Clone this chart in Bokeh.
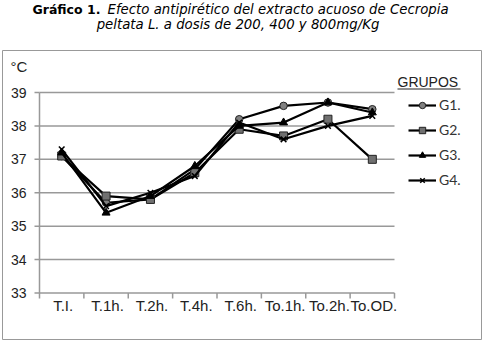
from bokeh.plotting import figure
from bokeh.models import Range1d, Legend, LegendItem
from bokeh.core.properties import value
from bokeh.embed import file_html
from bokeh.resources import INLINE

categories = ["T.I.", "T.1h.", "T.2h.", "T.4h.", "T.6h.", "To.1h.", "To.2h.", "To.OD."]
g1 = [37.1, 35.7, 35.8, 36.7, 38.2, 38.6, 38.7, 38.5]
g2 = [37.1, 35.9, 35.8, 36.6, 37.9, 37.7, 38.2, 37.0]
g3 = [37.2, 35.4, 35.9, 36.8, 38.0, 38.1, 38.7, 38.4]
g4 = [37.3, 35.6, 36.0, 36.5, 38.1, 37.6, 38.0, 38.3]
y_ticks = [33, 34, 35, 36, 37, 38, 39]
series_names = ["G1.", "G2.", "G3.", "G4."]

W, H = 485, 344
N = len(categories)
# plot-area geometry (pixels)
PX_L, PX_R = 39, 394
PY_TOP, PY_BOT = 92, 292.5
YMIN, YMAX = y_ticks[0], y_ticks[-1]
sx = (PX_R - PX_L) / N
sy = (PY_BOT - PY_TOP) / (YMAX - YMIN)


def dx(px):
    return (px - PX_L) / sx


def dy(py):
    return YMIN + (PY_BOT - py) / sy


p = figure(width=W, height=H, output_backend="svg", toolbar_location=None,
           x_axis_type=None, y_axis_type=None, min_border=0,
           x_range=Range1d(dx(0), dx(W)), y_range=Range1d(dy(H), dy(0)))
p.outline_line_color = None
p.grid.visible = False

GRID = "#999999"
# horizontal grid lines + x axis line
p.segment(x0=[0] * len(y_ticks), x1=[N] * len(y_ticks), y0=y_ticks, y1=y_ticks,
          line_color=GRID, line_width=1.5)
# y axis line and ticks
p.segment(x0=[0], x1=[0], y0=[YMIN], y1=[YMAX], line_color=GRID, line_width=1.5)
p.segment(x0=[dx(34)] * len(y_ticks), x1=[0] * len(y_ticks), y0=y_ticks, y1=y_ticks,
          line_color=GRID, line_width=1.5)
# x ticks between categories
bounds = list(range(N + 1))
p.segment(x0=bounds, x1=bounds, y0=[YMIN] * len(bounds), y1=[dy(298)] * len(bounds),
          line_color=GRID, line_width=1.5)

# tick labels
p.text(x=[dx(26)] * len(y_ticks), y=y_ticks, text=[str(t) for t in y_ticks],
       text_align="right", text_baseline="middle", text_color="#222222",
       text_font=value("Liberation Sans"), text_font_size=value("14px"))
xs = [i + 0.5 for i in range(N)]
p.text(x=[x + dx(PX_L + 1.5) for x in xs], y=[dy(305)] * N, text=categories,
       text_align="center", text_baseline="middle", text_color="#222222",
       text_font=value("Liberation Sans"), text_font_size=value("15px"))

# series
l1 = p.line(xs, g1, line_color="black", line_width=2.2)
m1 = p.scatter(xs, g1, marker="circle", size=7.5, fill_color="#808080", line_color="#222222")
l2 = p.line(xs, g2, line_color="black", line_width=2.2)
m2 = p.scatter(xs, g2, marker="square", size=8, fill_color="#707070", line_color="#222222")
l3 = p.line(xs, g3, line_color="black", line_width=2.2)
m3 = p.scatter(xs, g3, marker="triangle", size=8, fill_color="black", line_color="black")
l4 = p.line(xs, g4, line_color="black", line_width=2.2)
m4 = p.scatter(xs, g4, marker="x", size=8, line_color="black", line_width=1.5)

legend = Legend(items=[LegendItem(label=n, renderers=[l, m]) for n, l, m in
                       zip(series_names, [l1, l2, l3, l4], [m1, m2, m3, m4])],
                location=(408, 156), orientation="vertical",
                background_fill_alpha=0, border_line_color=None,
                label_text_font="Lato", label_text_font_size="14px",
                label_text_color="#333333", glyph_width=28, glyph_height=16,
                spacing=8, padding=0, margin=0, label_standoff=3)
p.add_layout(legend)

# legend heading
p.text(x=[dx(397)], y=[dy(81.5)], text=["GRUPOS"], text_align="left",
       text_baseline="middle", text_color="#222222",
       text_font=value("Liberation Sans"), text_font_size=value("14px"))
p.segment(x0=[dx(397)], x1=[dx(460)], y0=[dy(88.5)], y1=[dy(88.5)],
          line_color="#222222", line_width=1)

# unit
p.text(x=[dx(10)], y=[dy(66)], text=["°C"], text_align="left", text_baseline="middle",
       text_color="#222222", text_font=value("Liberation Sans"),
       text_font_size=value("15px"))

# title
p.text(x=[dx(32)], y=[dy(9)], text=["Gráfico 1."], text_align="left",
       text_baseline="middle", text_color="black", text_font=value("DejaVu Sans"),
       text_font_style="bold", text_font_size=value("12.5px"))
p.text(x=[dx(107)], y=[dy(9)], text=["Efecto antipirético del extracto acuoso de Cecropia"],
       text_align="left", text_baseline="middle", text_color="black",
       text_font=value("DejaVu Sans"), text_font_style="italic",
       text_font_size=value("13.3px"))
p.text(x=[dx(237.5)], y=[dy(24)], text=["peltata L. a dosis de 200, 400 y 800mg/Kg"],
       text_align="center", text_baseline="middle", text_color="black",
       text_font=value("DejaVu Sans"), text_font_style="italic",
       text_font_size=value("13.3px"))

# outer frame
p.quad(left=[dx(2)], right=[dx(481)], top=[dy(50)], bottom=[dy(339)],
       fill_alpha=0, line_color="#999999", line_width=1)

open("out.html", "w").write(file_html(p, INLINE))
